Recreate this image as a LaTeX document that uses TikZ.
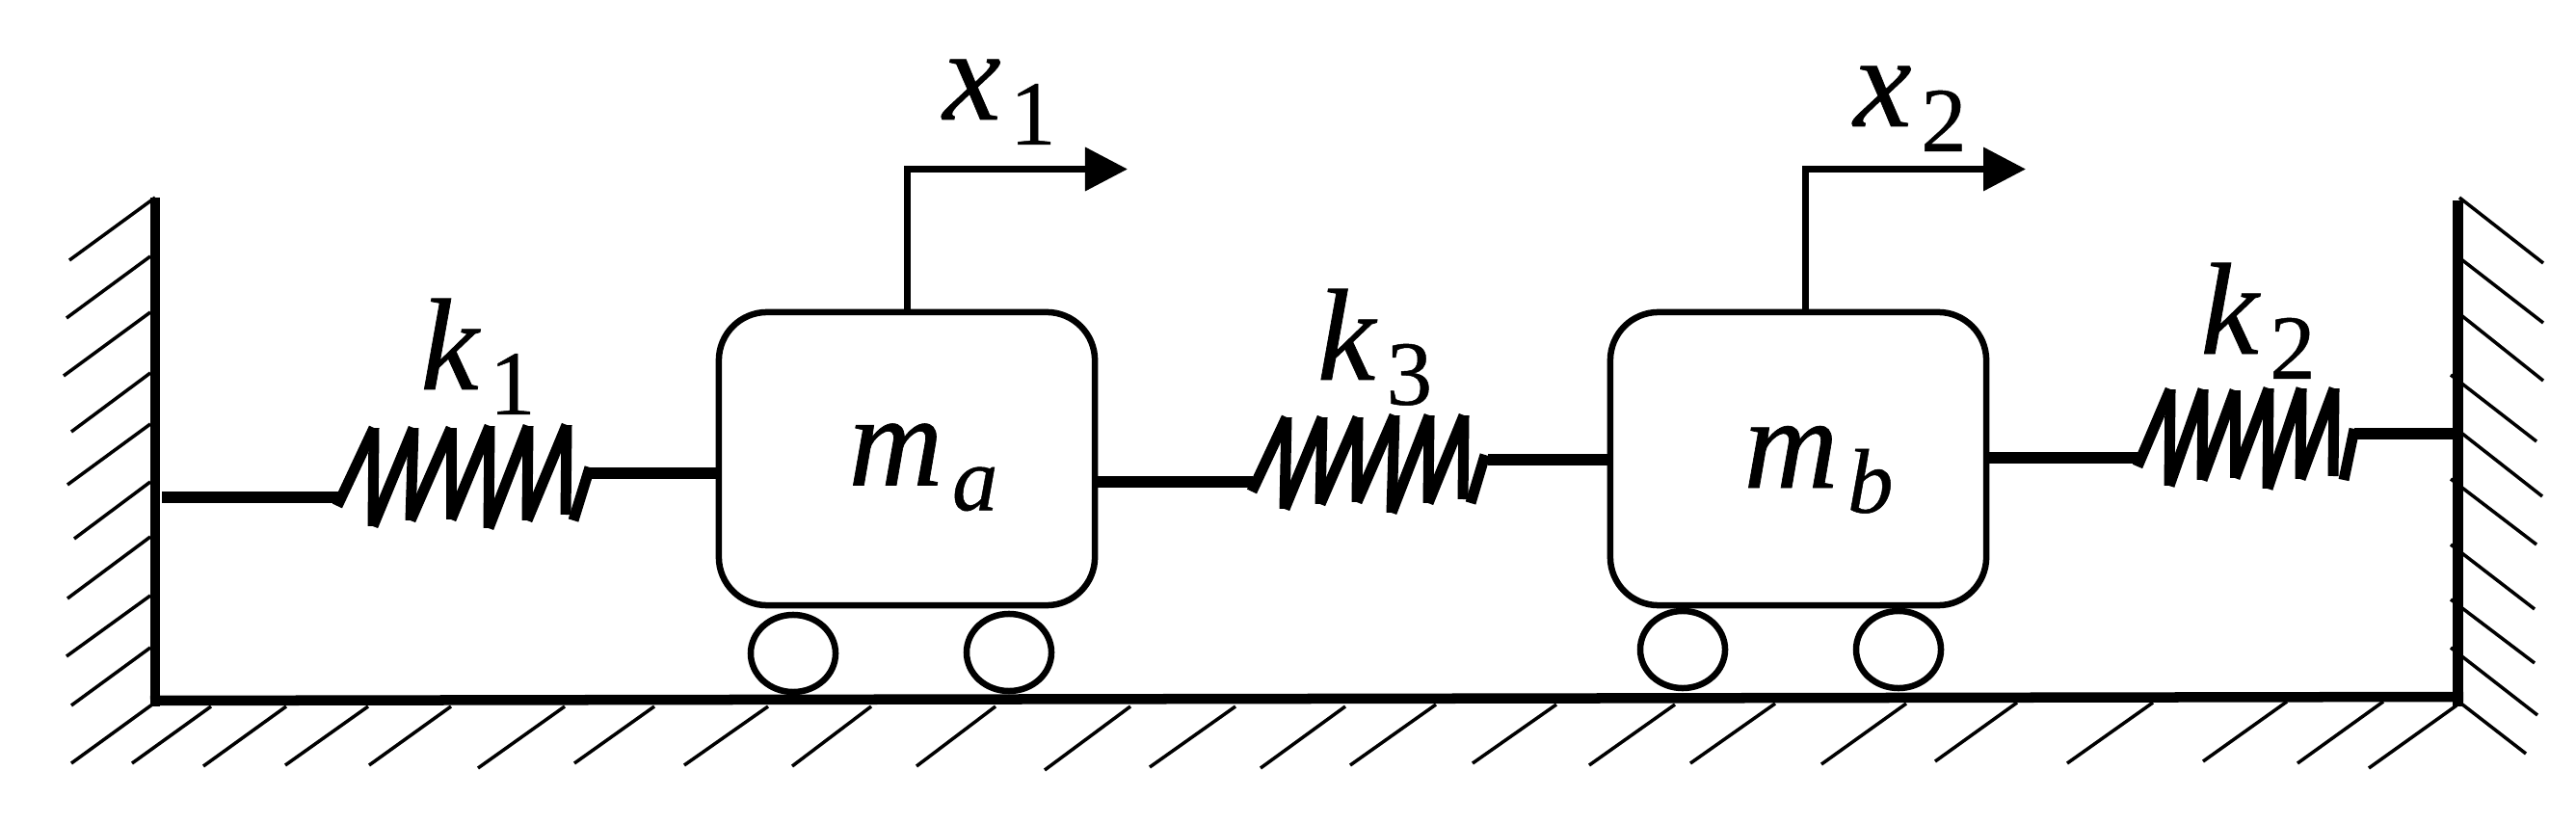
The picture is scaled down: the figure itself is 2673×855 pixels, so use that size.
\documentclass[tikz,border=0pt]{standalone}
\usepackage{fontspec}
\setmainfont{Liberation Serif}[FakeBold=0.5]
\usepackage{tikz}
\usetikzlibrary{arrows.meta}
\usetikzlibrary{shapes.geometric}

\tikzset{
	hatch/.style={line width=0.035cm},
	wall/.style={line width=0.105cm},
	lead/.style={line width=0.11cm},
	coil/.style={line width=0.11cm},
	mass/.style={draw,rectangle,rounded corners=0.5cm,line width=0.065cm,minimum width=3.9cm,minimum height=3.04cm,inner sep=0pt,outer sep=0pt},
	wheel/.style={draw,ellipse,line width=0.065cm,minimum width=0.88cm,minimum height=0.8cm,inner sep=0pt,outer sep=0pt},
	stem/.style={line width=0.07cm,-{Triangle[length=0.44cm,width=0.44cm,sep=0pt]}},
	sym/.style={scale=3.86,anchor=base,inner sep=0pt,outer sep=0pt}
}
\newcommand{\coilzig}[3]{\foreach \x/\y [remember=\x as \lx (initially #1),remember=\y as \ly (initially #2)] in {#3} \draw[coil] (\lx,\ly) -- (\x,\y);}
\newcommand{\symb}[2]{\textit{#1}\kern0.07em\raisebox{-0.19em}{\fontsize{7}{8}\selectfont #2}}

\begin{document}
\begin{tikzpicture}
	[x=0.01cm,y=-0.01cm]
	\useasboundingbox (0,0) rectangle (2673,855);

	% hatching
	\foreach \xa/\ya/\xb/\yb in {161/205/72/270,156/266/69/330,156/324/66/390,156/387/74/448,156/440/70/503,156/500/77/559,156/557/70/621,156/618/69/681,156/672/74/732}
		\draw[hatch] (\xa,\ya) -- (\xb,\yb);
	\foreach \xa/\ya/\xb/\yb in {158/731/74/792,219/733/137/792,297/733/211/795,382/733/296/794,468/733/383/794,586/733/496/797,679/733/596/792,797/733/710/794,904/733/822/795,1033/733/951/795,1173/733/1084/799,1282/733/1193/796,1396/733/1308/797,1490/731/1401/794,1615/731/1528/792,1738/731/1649/794,1842/730/1754/792,1978/730/1890/793,2093/729/2008/790,2234/729/2145/792,2373/728/2286/790,2473/728/2384/792,2549/732/2458/797}
		\draw[hatch] (\xa,\ya) -- (\xb,\yb);
	\foreach \xa/\ya/\xb/\yb in {2552/205/2639/273,2550/266/2639/335,2550/324/2639/395,2543/389/2632/458,2550/446/2638/515,2543/497/2632/565,2543/565/2630/632,2543/622/2630/688,2543/672/2633/742,2550/727/2621/782}
		\draw[hatch] (\xa,\ya) -- (\xb,\yb);

	% walls and floor
	\draw[wall] (161,205) -- (161,733);
	\draw[wall] (2550.5,208) -- (2550.5,733);
	\draw[wall] (156,727) -- (2556,723);

	% masses
	\node[mass] (ma) at (941,476) {};
	\node[mass] (mb) at (1866,476) {};
	\node[wheel] (wa1) at (823,678) {};
	\node[wheel] (wa2) at (1047,677) {};
	\node[wheel] (wb1) at (1746,674) {};
	\node[wheel] (wb2) at (1970,674) {};
	\node[sym] (lma) at (958,503.5) {\symb{m}{\textit{a}}};
	\node[sym] (lmb) at (1887,506) {\symb{m}{\textit{b}}};

	% displacement arrows
	\coordinate (cxa) at (941,175.5);
	\coordinate (xa) at (1170,175.5);
	\coordinate (cxb) at (1873,175.5);
	\coordinate (xb) at (2102,175.5);
	\draw[stem] (cxa |- ma.north) -- (cxa) -- (xa);
	\draw[stem] (cxb |- mb.north) -- (cxb) -- (xb);
	\node[sym] (lxa) at (1037,124) {\symb{x}{1}};
	\node[sym] (lxb) at (1982,131) {\symb{x}{2}};

	% spring k1
	\coordinate (wl) at (168,516);
	\coordinate (ka) at (352,516);
	\coordinate (kb) at (612,491);
	\draw[lead] (wl) -- (ka);
	\coilzig{350}{525}{388/444,387/546,429/444,426/540,468/444,468/539,508/442,507/548,548/442,547/540,588/441,587/534}
	\draw[coil] (595,540) -- (612,485);
	\draw[lead] (kb) -- (kb -| ma.west);
	\node[sym] (lka) at (496,404) {\symb{k}{1}};

	% spring k3
	\coordinate (kc) at (1300,500);
	\coordinate (kd) at (1544,477);
	\draw[lead] (kc -| ma.east) -- (kc);
	\coilzig{1299}{510}{1335/433,1333/528,1372/433,1370/523,1409/433,1408/521,1447/431,1444/532,1483/431,1482/522,1519/431,1518/518}
	\draw[coil] (1526,522) -- (1541,472);
	\draw[lead] (kd) -- (kd -| mb.west);
	\node[sym] (lkc) at (1426.5,394) {\symb{k}{3}};

	% spring k2
	\coordinate (ke) at (2220,475);
	\coordinate (kf) at (2443,450);
	\coordinate (wr) at (2546,450);
	\draw[lead] (ke -| mb.east) -- (ke);
	\coilzig{2218}{484}{2252/404,2251/504,2286/404,2285/498,2319/405,2319/496,2354/403,2353/507,2388/403,2387/497,2422/403,2421/494}
	\draw[coil] (2432,498) -- (2443,445);
	\draw[lead] (kf) -- (wr);
	\node[sym] (lkb) at (2343,367) {\symb{k}{2}};
\end{tikzpicture}
\end{document}
